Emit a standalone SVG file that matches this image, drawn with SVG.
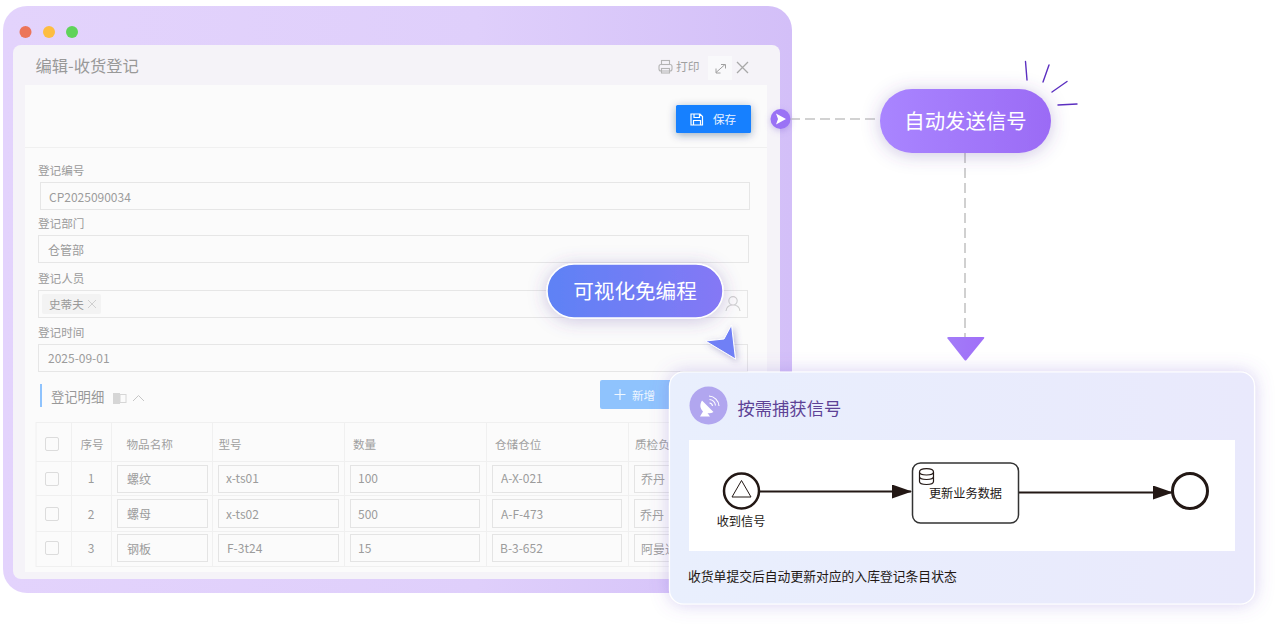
<svg xmlns="http://www.w3.org/2000/svg" width="1280" height="628" viewBox="0 0 1280 628">
<style>
text{font-family:"Noto Sans CJK SC","Noto Sans",sans-serif}
.lb{font-size:11.600px;fill:#9a9a9a}
.v{font-size:12px;fill:#9c9c9c}
.th{font-size:11.600px;fill:#a0a0a0}
.ipt{fill:#fbfbfb;stroke:#e6e6e6;stroke-width:1}
.cell{fill:#fbfbfb;stroke:#e4e4e4;stroke-width:1}
.grid{stroke:#f0f0f0;stroke-width:1;fill:none}
.cb{fill:#fbfbfb;stroke:#dcdcdc;stroke-width:1;}
.ic{fill:none;stroke:#b4b4b4;stroke-width:1.100}
.ray{stroke:#5b2fc0;stroke-width:1.400;stroke-linecap:round}
.bk{fill:none;stroke:#231815}
.bt{font-size:12.200px;fill:#231815}
.mid{text-anchor:middle}
</style>
<defs>
<linearGradient id="gw" x1="0" x2="1" y1="0" y2="0"><stop offset="0" stop-color="#e3d3fc"/><stop offset=".6" stop-color="#dfcffb"/><stop offset="1" stop-color="#d3bff8"/></linearGradient>
<linearGradient id="gp1" x1="0" x2="1" y1="0" y2="0"><stop offset="0" stop-color="#a985ff"/><stop offset="1" stop-color="#9b6bf5"/></linearGradient>
<linearGradient id="gp2" x1="0" x2="1" y1="0" y2="0"><stop offset="0" stop-color="#5e82f5"/><stop offset="1" stop-color="#8578f5"/></linearGradient>
<linearGradient id="gc" x1="0" x2="1" y1="0" y2="0"><stop offset="0" stop-color="#e9effd"/><stop offset="1" stop-color="#e9e9fc"/></linearGradient>
<linearGradient id="gt" x1="0" x2="1" y1="0" y2="0"><stop offset="0" stop-color="#a27cf8"/><stop offset="1" stop-color="#a06ff8"/></linearGradient>
<filter id="s1" x="-30%" y="-60%" width="160%" height="220%"><feDropShadow dx="0" dy="2" stdDeviation="9" flood-color="#5a3fa0" flood-opacity=".3"/></filter>
<filter id="s2" x="-10%" y="-15%" width="120%" height="130%"><feDropShadow dx="0" dy="0" stdDeviation="9" flood-color="#7a5fd0" flood-opacity=".3"/></filter>
<filter id="s3" x="-30%" y="-50%" width="160%" height="200%"><feDropShadow dx="0" dy="2" stdDeviation="4" flood-color="#103060" flood-opacity=".4"/></filter>
<filter id="s4" x="-50%" y="-50%" width="200%" height="200%"><feDropShadow dx="2" dy="2" stdDeviation="3" flood-color="#5a4fa0" flood-opacity=".4"/></filter>
<filter id="s5" x="-60%" y="-60%" width="220%" height="220%"><feDropShadow dx="0" dy="2" stdDeviation="3" flood-color="#7a5fd0" flood-opacity=".35"/></filter>
<marker id="ah" markerUnits="userSpaceOnUse" markerWidth="20" markerHeight="14" refX="19" refY="7" orient="auto"><path d="M0 0L20 7L0 14Z" fill="#231815"/></marker>
</defs>

<g id="window">
<rect x="3" y="6" width="789" height="587" rx="24" fill="url(#gw)"/>
<circle cx="25.500" cy="32" r="6" fill="#ec7559"/>
<circle cx="49" cy="32" r="6" fill="#fdbd41"/>
<circle cx="72" cy="32" r="6" fill="#5fd35a"/>
<rect x="13" y="45" width="767" height="534" rx="8" fill="#f5f3f8"/>
<text x="35.500" y="72" font-size="16.300" fill="#999">编辑-收货登记</text>
<rect x="708" y="56" width="24" height="24" fill="#f9f9fb"/>
<g class="ic">
<rect x="661.500" y="60.500" width="8" height="4"/><rect x="659" y="64.500" width="13" height="6.500" rx="2"/><rect x="661.500" y="68.500" width="8" height="4.500"/>
<path d="M716 72.500L725 64.500M721 64.500h4.500v4M716 68.500v4.500h4.500" stroke-width="1" stroke="#a0a0a0"/>
<path d="M737 62L748 73M748 62L737 73" stroke-width="1.300" stroke="#a8a8a8"/>
</g>
<text x="676" y="71" font-size="11.800" fill="#a0a0a0">打印</text>
<rect x="25" y="85" width="742" height="487" fill="#fbfbfb"/>
<line x1="25" y1="147.500" x2="767" y2="147.500" stroke="#f0f0f0"/>
</g>

<g id="save-button" filter="url(#s3)">
<rect x="676" y="105" width="75" height="28" rx="1.500" fill="#1580ff"/>
</g>
<g id="save-label">
<path d="M691 114h9l2.500 2.500v8.500h-11.500zM694 114v3.500h5.500v-3.500M693.500 125v-4.500h7v4.500" fill="none" stroke="#fff" stroke-width="1.200"/>
<text x="713" y="124" font-size="11.600" fill="#e8f2ff">保存</text>
</g>

<g id="form">
<text class="lb" x="38" y="175">登记编号</text>
<rect class="ipt" x="40.500" y="182.500" width="709" height="27"/>
<text class="v" x="49" y="202">CP2025090034</text>
<text class="lb" x="38" y="228">登记部门</text>
<rect class="ipt" x="38.500" y="235.500" width="710" height="27"/>
<text class="v" x="48" y="255">仓管部</text>
<text class="lb" x="38" y="283">登记人员</text>
<rect class="ipt" x="38.500" y="290.500" width="709" height="27"/>
<rect x="42" y="294" width="59" height="20" rx="2" fill="#f3f3f3"/>
<text x="49" y="309" font-size="11.600" fill="#9a9a9a">史蒂夫</text>
<path d="M88 300L96 308M96 300L88 308" stroke="#d0d0d0" stroke-width="1"/>
<path d="M726 311c.500-4 3-6 7-6s6.500 2 7 6M733 305a4.200 4.200 0 1 0 0-8.400a4.200 4.200 0 0 0 0 8.400z" fill="none" stroke="#cfcfcf" stroke-width="1.100"/>
<text class="lb" x="38" y="337">登记时间</text>
<rect class="ipt" x="38.500" y="344.500" width="709" height="27"/>
<text class="v" x="48" y="363">2025-09-01</text>
<rect x="40" y="384" width="2" height="23" fill="#8fc3fd"/>
<text x="51" y="402" font-size="13.300" fill="#989898">登记明细</text>
<rect x="113" y="393" width="7" height="11" fill="#d6d6d6"/><rect x="120" y="394.500" width="6" height="8" fill="none" stroke="#d6d6d6"/>
<path d="M133 401L138.500 395.500L144 401" fill="none" stroke="#c6c6c6" stroke-width="1"/>
<rect x="600" y="380" width="72" height="29" rx="2" fill="#8fc3fd"/>
<path d="M620 389v11M614.500 394.500h11" stroke="#f0f7ff" stroke-width="1.200"/>
<text x="632" y="400" font-size="11.600" fill="#eef6ff">新增</text>
</g>

<g id="table">
<path class="grid" d="M36 422.500H680M36 461.500H680M36 495.500H680M36 531.500H680M36 566.500H680M36 422V567M71.500 422V567M111.500 422V567M212.500 422V567M344.500 422V567M486.500 422V567M628.500 422V567"/>
<rect class="cb" x="45.500" y="437.500" width="13" height="13" rx="1.500"/>
<rect class="cb" x="45.500" y="472.500" width="13" height="13" rx="1.500"/>
<rect class="cb" x="45.500" y="507.500" width="13" height="13" rx="1.500"/>
<rect class="cb" x="45.500" y="541.500" width="13" height="13" rx="1.500"/>
<text class="th" x="80.500" y="449">序号</text>
<text class="th" x="126.500" y="449">物品名称</text>
<text class="th" x="218.500" y="449">型号</text>
<text class="th" x="353" y="449">数量</text>
<text class="th" x="495" y="449">仓储仓位</text>
<text class="th" x="635" y="449">质检负责人</text>

<rect class="cell" x="117.500" y="465.500" width="90" height="27"/>
<rect class="cell" x="218.500" y="465.500" width="120" height="27"/>
<rect class="cell" x="350.500" y="465.500" width="129" height="27"/>
<rect class="cell" x="492.500" y="465.500" width="129" height="27"/>
<rect class="cell" x="634.500" y="465.500" width="40" height="27"/>
<rect class="cell" x="117.500" y="499.500" width="90" height="28"/>
<rect class="cell" x="218.500" y="499.500" width="120" height="28"/>
<rect class="cell" x="350.500" y="499.500" width="129" height="28"/>
<rect class="cell" x="492.500" y="499.500" width="129" height="28"/>
<rect class="cell" x="634.500" y="499.500" width="40" height="28"/>
<rect class="cell" x="117.500" y="534.500" width="90" height="27"/>
<rect class="cell" x="218.500" y="534.500" width="120" height="27"/>
<rect class="cell" x="350.500" y="534.500" width="129" height="27"/>
<rect class="cell" x="492.500" y="534.500" width="129" height="27"/>
<rect class="cell" x="634.500" y="534.500" width="40" height="27"/>

<text class="v mid" x="91" y="483">1</text><text class="v" x="127" y="484">螺纹</text><text class="v" x="226" y="483">x-ts01</text><text class="v" x="358" y="483">100</text><text class="v" x="501" y="483">A-X-021</text><text class="v" x="641" y="484">乔丹</text>
<text class="v mid" x="91" y="519">2</text><text class="v" x="127" y="519">螺母</text><text class="v" x="226" y="519">x-ts02</text><text class="v" x="358" y="519">500</text><text class="v" x="501" y="519">A-F-473</text><text class="v" x="640" y="520">乔丹</text>
<text class="v mid" x="91" y="553">3</text><text class="v" x="127" y="554">钢板</text><text class="v" x="227" y="553">F-3t24</text><text class="v" x="358" y="553">15</text><text class="v" x="500" y="553">B-3-652</text><text class="v" x="641" y="554">阿曼达</text>
</g>

<g id="connectors">
<line x1="790" y1="119" x2="880" y2="119" stroke="#c4c4c4" stroke-width="1.500" stroke-dasharray="10 5"/>
<line x1="965" y1="153" x2="965" y2="337" stroke="#d0d0d0" stroke-width="2" stroke-dasharray="10 5"/>
<path id="down-arrow" d="M948.500 337H983.500Q985 337 984 338.500L966.500 360Q965.500 361 964.500 360L947.500 338.500Q946.500 337 948.500 337Z" fill="url(#gt)"/>
</g>

<g id="send-dot" filter="url(#s5)">
<circle cx="780.500" cy="119" r="10" fill="#9a72f5"/>
<path d="M776 113.500L786 119L776 124.500L778 119Z" fill="#fff"/>
</g>

<g id="auto-signal">
<rect x="880" y="89" width="171" height="64" rx="32" fill="url(#gp1)" filter="url(#s1)"/>
<text x="965.500" y="129" class="mid" font-size="20.400" fill="#fff">自动发送信号</text>
<line class="ray" x1="1025.500" y1="61.500" x2="1027" y2="80"/>
<line class="ray" x1="1049" y1="65" x2="1043" y2="82"/>
<line class="ray" x1="1067" y1="81.500" x2="1052" y2="92"/>
<line class="ray" x1="1058" y1="105" x2="1077" y2="104"/>
</g>

<g id="no-code">
<rect x="547" y="264" width="176" height="54" rx="27" fill="url(#gp2)" stroke="#fff" stroke-width="1.500" filter="url(#s1)"/>
<text x="635" y="299" class="mid" font-size="20.600" fill="#fff">可视化免编程</text>
</g>

<g id="cursor" filter="url(#s4)">
<path d="M731.500 325L735.500 359L705.500 341L724 339Z" fill="#7080f6" stroke="#fff" stroke-width="1" stroke-linejoin="round"/>
</g>

<g id="capture-card">
<rect x="669.500" y="372" width="585" height="232" rx="14" fill="url(#gc)" stroke="#fff" stroke-width="1.200" filter="url(#s2)"/>
<circle cx="708.500" cy="405.500" r="19" fill="#b1a6ef"/>
<path d="M702 400.500c-2.500 4-2 8 1 11l-3 5h10l-2.500-3.500c2 .500 4 .200 6-1z" fill="#fff"/>
<path d="M709 396a10.500 10.500 0 0 1 10 10M709.500 399.500a7 7 0 0 1 6 6M709.500 403a3.500 3.500 0 0 1 3 3" fill="none" stroke="#fff" stroke-width="1.100"/>
<text x="737.500" y="415" font-size="17.300" fill="#5d4296">按需捕获信号</text>
<rect x="689" y="440" width="546" height="111" fill="#fff"/>
<text x="688" y="581" font-size="12.800" fill="#231815">收货单提交后自动更新对应的入库登记条目状态</text>
</g>

<g id="bpmn-connectors">
<line class="bk" x1="760" y1="491.500" x2="911" y2="491.500" stroke-width="1.800" marker-end="url(#ah)"/>
<line class="bk" x1="1018" y1="492.500" x2="1172" y2="492.500" stroke-width="1.800" marker-end="url(#ah)"/>
</g>
<g id="bpmn-start">
<circle class="bk" cx="741.500" cy="491" r="17.500" stroke-width="2.500" fill="#fff"/>
<path class="bk" d="M741.500 480.500L732 497H751Z" stroke-width="1"/>
<text class="bt mid" x="741" y="526">收到信号</text>
</g>
<g id="bpmn-task">
<rect x="912.500" y="463" width="106" height="60" rx="8" fill="#fff" stroke="#333" stroke-width="1.500"/>
<path class="bk" d="M919.500 472c0-4.500 14-4.500 14 0v9.500c0 4-14 4-14 0zM919.500 472c0 4 14 4 14 0M919.500 476.500c0 4 14 4 14 0" stroke-width="1.200"/>
<text class="bt mid" x="965.500" y="498">更新业务数据</text>
</g>
<g id="bpmn-end">
<circle class="bk" cx="1190" cy="491" r="17.500" stroke-width="3" fill="#fff"/>
</g>
</svg>
